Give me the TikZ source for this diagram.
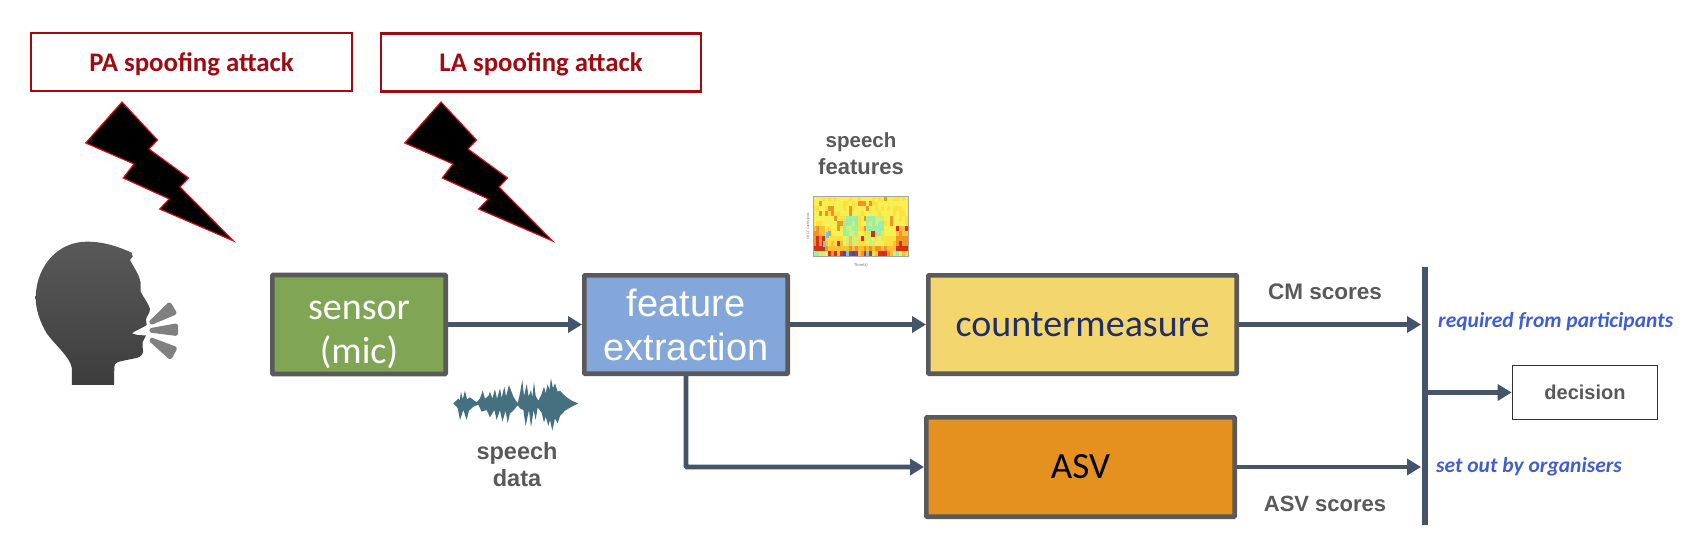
\documentclass[tikz,border=0pt]{standalone}
\usepackage{fontspec}
\setmainfont{Carlito}
\newfontfamily\arialf{Liberation Sans}
\usetikzlibrary{arrows.meta}
\definecolor{linec}{HTML}{44546A}
\definecolor{boxline}{HTML}{5A5A5A}
\definecolor{redc}{HTML}{A00B12}
\definecolor{greyt}{HTML}{595959}
\definecolor{bluet}{HTML}{3F5FD0}
\definecolor{navyt}{HTML}{1F2F66}
\definecolor{wavec}{HTML}{44707F}
\definecolor{cm0}{HTML}{3050D8}
\definecolor{cm1}{HTML}{60D0F0}
\definecolor{cm2}{HTML}{98F0A8}
\definecolor{cm3}{HTML}{CCF078}
\definecolor{cm4}{HTML}{F6F050}
\definecolor{cm5}{HTML}{FFE040}
\definecolor{cm6}{HTML}{FCC038}
\definecolor{cm7}{HTML}{F09428}
\definecolor{cm8}{HTML}{D43018}
\tikzset{
  blockbox/.style={draw=boxline,line width=4.7pt,rounded corners=0.8pt,inner sep=0pt,align=center,text width=150pt},
  attackbox/.style={draw=redc,line width=2.4pt,fill=white,inner sep=0pt,minimum width=320.5pt,minimum height=58pt,text=redc,text height=22pt,text depth=3.4pt,font=\fontsize{26.8}{30}\selectfont\bfseries},
  flow/.style={draw=linec,line width=4.6pt,-{Triangle[length=14pt,width=16pt]},shorten >=0pt},
  bolt/.style={draw={rgb,255:red,225;green,10;blue,20},line width=1.1pt,fill=black,line join=miter},
  greylab/.style={text=greyt,font=\arialf\bfseries\fontsize{21}{26}\selectfont,align=center,inner sep=0pt},
  bluelab/.style={text=bluet,font=\bfseries\itshape\fontsize{21.5}{26}\selectfont,inner sep=0pt,anchor=west},
}
\begin{document}
\begin{tikzpicture}[x=1pt,y=-1pt]
\useasboundingbox (0,0) rectangle (1691,550);
\fill[white] (0,0) rectangle (1691,550);

% attack boxes
\node[attackbox] (pa) at (191.5,62) {PA spoofing attack};
\node[attackbox] (la) at (541,62.5) {LA spoofing attack};

% lightning bolts
\foreach \dx in {0,319}{
\path[bolt,shift={(\dx,0)}] (122,102)--(157.5,140)--(149,149)--(188.6,178)--(180,187)--(233.6,241)--(159.6,209)--(169.3,199)--(123.2,178)--(134,164)--(85.7,143)--cycle;
}

% speaker head
\begin{scope}[shift={(20,210)},scale=0.3333]
\shade[top color=black!65,bottom color=black!76,draw=none]
 (200,95) .. controls (255,95) and (300,112) .. (335,128)
 -- (338,140) -- (330,150)
 .. controls (345,178) and (358,195) .. (362,218)
 -- (362,245) .. controls (372,265) and (385,280) .. (390,296)
 .. controls (390,310) and (380,318) .. (378,328)
 -- (380,345) .. controls (360,358) and (345,362) .. (336,370)
 .. controls (350,376) and (365,376) .. (378,376)
 -- (368,396) -- (368,412)
 .. controls (372,430) and (368,440) .. (345,445)
 -- (310,452) .. controls (295,455) and (284,458) .. (283,470)
 -- (282,525) -- (156,525) -- (156,475)
 .. controls (150,440) and (105,405) .. (80,370)
 .. controls (60,335) and (47,300) .. (47,262)
 .. controls (50,160) and (120,95) .. (200,95) -- cycle;
\fill[black!50,draw=black!50,line width=5pt,line join=round] (396,336)--(448,285)--(462,308)--cycle;
\fill[black!50,draw=black!50,line width=5pt,line join=round] (396,361)--(467,348)--(467,370)--cycle;
\fill[black!50,draw=black!50,line width=5pt,line join=round] (396,391)--(463,416)--(450,440)--cycle;
\end{scope}

% blocks
\node[blockbox,fill={rgb,255:red,128;green,166;blue,85},minimum width=173.3pt,minimum height=99pt,text=white,font=\fontsize{38}{44}\selectfont] (sensor) at (359,324.5) {\rule{0pt}{40pt}sensor\\(mic)};
\node[blockbox,fill={rgb,255:red,131;green,167;blue,218},minimum width=203.3pt,minimum height=98.3pt,text=white,text width=200pt,font=\arialf\fontsize{38}{44}\selectfont] (feature) at (686,324.5) {feature\\extraction};
\node[blockbox,fill={rgb,255:red,244;green,214;blue,110},minimum width=308.3pt,minimum height=98.3pt,text=navyt,text width=300pt,font=\fontsize{38}{42}\selectfont] (cm) at (1082.5,324.5) {countermeasure};
\node[blockbox,fill={rgb,255:red,229;green,145;blue,32},minimum width=308.3pt,minimum height=99.3pt,text=black,text width=300pt,font=\fontsize{37}{42}\selectfont] (asv) at (1080.5,467) {ASV};
\node[draw={rgb,255:red,50;green,50;blue,50},line width=1.8pt,minimum width=145pt,minimum height=54pt,inner sep=0pt,text=greyt,font=\arialf\bfseries\fontsize{20}{24}\selectfont] (decision) at (1585,392.5) {decision};

% collector bar
\coordinate (bartop) at (1425,267);
\coordinate (barbot) at (1425,525);
\coordinate (barcm) at (1421,324.5);
\coordinate (barasv) at (1421,467);
\coordinate (bardec) at (1428,392.5);
\draw[linec,line width=6pt] (bartop) -- (barbot);

% connectors
\draw[flow] (sensor.east) -- (feature.west);
\draw[flow] (feature.east) -- (cm.west);
\draw[flow,rounded corners=1pt] (feature.south) |- (asv.west);
\draw[flow] (cm.east) -- (barcm);
\draw[flow] (asv.east) -- (barasv);
\draw[flow] (bardec) -- (decision.west);

% labels
\node[greylab,font=\arialf\bfseries\fontsize{22.5}{26}\selectfont] (cmlab) at (1325,292) {CM scores};
\node[greylab,font=\arialf\bfseries\fontsize{22}{26}\selectfont] (asvlab) at (1325,504) {ASV scores};
\node[bluelab] (req) at (1438,322) {required from participants};
\node[bluelab] (set) at (1436,467) {set out by organisers};
\node[greylab,font=\arialf\bfseries\fontsize{23.5}{27}\selectfont] (sdata) at (517,465) {speech\\data};
\node[greylab,font=\arialf\bfseries\fontsize{20.5}{27}\selectfont] (sfeat) at (861,154) {speech\\{\fontsize{22}{27}\selectfont features}};

% waveform
\begin{scope}[shift={(445,370)},scale=0.3333]
\fill[wavec] plot coordinates {(25,100)(34,92)(40,85)(44,92)(48,65)(53,88)(60,62)(66,88)(75,82)(95,97)(105,85)(113,62)(120,86)(130,78)(135,65)(142,86)(150,58)(156,86)(165,55)(170,84)(178,50)(183,80)(192,45)(205,80)(218,100)(225,70)(232,30)(237,78)(245,42)(251,80)(258,60)(262,82)(267,35)(272,78)(280,92)(290,72)(297,50)(302,70)(308,42)(313,60)(318,25)(324,55)(330,40)(338,65)(345,62)(360,78)(380,92)(400,100)(380,110)(360,122)(345,138)(338,160)(330,145)(322,182)(315,150)(310,168)(302,140)(297,158)(290,128)(278,112)(272,150)(266,120)(258,172)(252,120)(242,168)(235,120)(225,115)(218,106)(205,122)(195,130)(188,160)(182,122)(172,155)(165,120)(155,150)(148,120)(135,142)(125,120)(110,125)(100,104)(85,110)(72,122)(65,150)(55,120)(45,150)(38,114)(25,100)};
\end{scope}

% spectrogram
\pgfmathsetseed{23}
\foreach \r in {0,...,10}{
 \foreach \c in {0,...,31}{
  \pgfmathrandominteger{\nz}{0}{19}
  \pgfmathtruncatemacro{\base}{\r<6 ? 4 : (\r<8 ? 4 : (\r<10 ? 5 : 6))}
  \pgfmathtruncatemacro{\edge}{(\r>5 && (\c<4 || \c>27)) ? 2 : 0}
  \pgfmathtruncatemacro{\gr}{(\r>3 && \r<10 && ((\c>9 && \c<15) || (\c>17 && \c<24))) ? 2 : 0}
  \pgfmathtruncatemacro{\lv}{max(2,min(8,\base+\edge-\gr+(\nz>17 ? 3 : (\nz>12 ? 1 : 0))))}
  \fill[cm\lv] ({813+\c*2.97},{196+\r*5}) rectangle ++(3.2,5.2);
 }
}
\foreach \c/\lv in {0/2,1/2,2/3,3/3,4/4,5/8,6/7,7/8,8/6,9/8,10/0,11/1,12/8,13/0,14/8,15/6,16/7,17/8,18/1,19/8,20/5,21/6,22/8,23/8,24/8,25/7,26/6,27/3,28/2,29/4,30/6,31/5}{
  \fill[cm\lv] ({813+\c*2.97},251) rectangle ++(3.2,5);
}
\fill[cm1] (823,241) rectangle ++(3,6);
\fill[cm1] (826,232) rectangle ++(3,6);
\fill[cm8] (871,231) rectangle ++(4,6);
\draw[black!35,line width=0.4pt] (813,196) rectangle (908,256);
\node[inner sep=0pt,text=black!55,font=\fontsize{4.5}{5}\selectfont] (stime) at (861,265) {Time(s)};
\node[inner sep=0pt,rotate=90,text=black!55,font=\fontsize{3.6}{4}\selectfont] (smfcc) at (808,226) {MFCC Coefficients};
\end{tikzpicture}
\end{document}
